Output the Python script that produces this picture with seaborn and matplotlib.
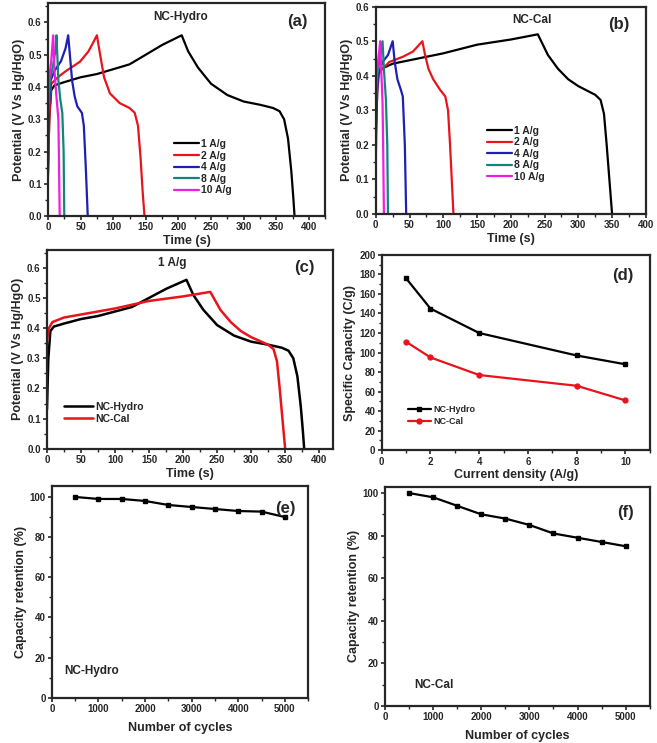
import numpy as np
import pandas as pd
import matplotlib
matplotlib.use('Agg')
import matplotlib.pyplot as plt
from matplotlib.ticker import MultipleLocator
import seaborn as sns

## ---- data ----
## (a) NC-Hydro GCD curves, time (s) / potential (V)
hyd_1_t = [0, 2, 5, 10, 25, 50, 75, 100, 125, 150, 175, 195, 205, 215, 230, 250, 275, 300, 325, 345, 355, 362, 368, 373, 376, 378]
hyd_1_v = [0.13, 0.30, 0.39, 0.405, 0.415, 0.43, 0.44, 0.455, 0.47, 0.50, 0.53, 0.55, 0.56, 0.51, 0.46, 0.41, 0.375, 0.355, 0.345, 0.335, 0.325, 0.30, 0.24, 0.14, 0.06, 0.0]
hyd_2_t = [0, 2, 5, 15, 28, 49, 62, 70, 75, 80, 86, 95, 110, 125, 133, 138, 142, 145, 148]
hyd_2_v = [0.12, 0.30, 0.41, 0.43, 0.45, 0.478, 0.51, 0.54, 0.56, 0.50, 0.43, 0.38, 0.35, 0.335, 0.32, 0.28, 0.18, 0.08, 0.0]
hyd_4_t = [0, 2, 4, 10, 20, 27, 31, 34, 37, 41, 45, 52, 55, 58, 61]
hyd_4_v = [0.22, 0.35, 0.42, 0.45, 0.48, 0.52, 0.56, 0.49, 0.42, 0.37, 0.34, 0.32, 0.28, 0.15, 0.0]
hyd_8_t = [0, 3, 8, 12, 13, 16, 19, 22, 24, 25]
hyd_8_v = [0.30, 0.42, 0.47, 0.52, 0.56, 0.42, 0.36, 0.32, 0.20, 0.0]
hyd_10_t = [0, 2, 5, 8, 10, 13, 16, 18]
hyd_10_v = [0.36, 0.43, 0.48, 0.56, 0.45, 0.37, 0.30, 0.0]

## (b) NC-Cal GCD curves
cal_1_t = [0, 3, 8, 25, 50, 100, 150, 200, 240, 245, 255, 270, 285, 300, 315, 325, 333, 338, 342, 346, 350]
cal_1_v = [0.36, 0.40, 0.42, 0.435, 0.445, 0.465, 0.49, 0.505, 0.52, 0.50, 0.46, 0.42, 0.39, 0.37, 0.355, 0.345, 0.33, 0.29, 0.20, 0.10, 0.0]
cal_2_t = [0, 2, 5, 20, 40, 55, 69, 73, 78, 85, 95, 103, 107, 110, 113, 115]
cal_2_v = [0.16, 0.35, 0.41, 0.44, 0.455, 0.47, 0.50, 0.46, 0.42, 0.39, 0.36, 0.34, 0.30, 0.20, 0.08, 0.0]
cal_4_t = [0, 3, 10, 18, 25, 28, 32, 37, 40, 43, 45]
cal_4_v = [0.23, 0.40, 0.44, 0.46, 0.50, 0.44, 0.39, 0.36, 0.34, 0.20, 0.0]
cal_8_t = [0, 2, 6, 10, 12, 15, 17, 18]
cal_8_v = [0.30, 0.40, 0.45, 0.50, 0.42, 0.33, 0.20, 0.0]
cal_10_t = [0, 2, 5, 6.5, 8, 10, 11, 12]
cal_10_v = [0.36, 0.42, 0.47, 0.50, 0.42, 0.32, 0.18, 0.0]

rates = ['1 A/g', '2 A/g', '4 A/g', '8 A/g', '10 A/g']
rate_colors = ['black', '#e8141b', '#1f1fb4', '#12857a', '#f01ee0']

## (d) specific capacity vs current density
density = [1, 2, 4, 8, 10]
cap_hydro = [176, 145, 120, 97, 88]
cap_cal = [111, 95, 77, 66, 51]

## (e), (f) cycling stability
cycles = [500, 1000, 1500, 2000, 2500, 3000, 3500, 4000, 4500, 5000]
ret_hydro = [100, 99, 99, 98, 96, 95, 94, 93, 92.7, 90]
ret_cal = [100, 98, 94, 90, 88, 85, 81, 79, 77, 75]

sns.set_style('ticks')
plt.rcParams['font.family'] = ['Liberation Sans', 'DejaVu Sans']
plt.rcParams['font.weight'] = 'bold'
plt.rcParams['axes.labelweight'] = 'bold'
plt.rcParams['axes.linewidth'] = 1.6
plt.rcParams['xtick.major.width'] = 1.2
plt.rcParams['ytick.major.width'] = 1.2
plt.rcParams['xtick.minor.width'] = 1.0
plt.rcParams['ytick.minor.width'] = 1.0
plt.rcParams['xtick.major.size'] = 3
plt.rcParams['ytick.major.size'] = 3
plt.rcParams['xtick.minor.size'] = 2
plt.rcParams['ytick.minor.size'] = 2
plt.rcParams['xtick.labelsize'] = 7
plt.rcParams['ytick.labelsize'] = 7
plt.rcParams['xtick.major.pad'] = 1.5
plt.rcParams['ytick.major.pad'] = 1.5

fig = plt.figure(figsize=(6.57, 7.43), dpi=100)
ax_a = fig.add_axes([0.073, 0.709, 0.422, 0.287])
ax_b = fig.add_axes([0.572, 0.712, 0.411, 0.279])
ax_c = fig.add_axes([0.0715, 0.396, 0.435, 0.268])
ax_d = fig.add_axes([0.581, 0.394, 0.408, 0.263])
ax_e = fig.add_axes([0.079, 0.061, 0.390, 0.285])
ax_f = fig.add_axes([0.586, 0.050, 0.403, 0.295])

lbl = dict(fontsize=9, fontweight='bold', labelpad=2)
leg_kw = dict(frameon=False, prop={'weight': 'bold', 'size': 7.5},
              handletextpad=0.2, labelspacing=0.15, borderpad=0)


def bold_ticks(ax):
    for t in ax.get_xticklabels() + ax.get_yticklabels():
        t.set_fontweight('bold')


def gcd_panel(ax, curves, title, title_x, tag, xmax, ymax, legend_pos):
    for (t, v), name, col in zip(curves, rates, rate_colors):
        sns.lineplot(x=t, y=v, sort=False, estimator=None, color=col, lw=1.6,
                     label=name, ax=ax)
    ax.set_xlim(0, xmax)
    ax.set_ylim(0, ymax)
    ax.xaxis.set_major_locator(MultipleLocator(50))
    ax.xaxis.set_minor_locator(MultipleLocator(25))
    ax.yaxis.set_major_locator(MultipleLocator(0.1))
    ax.yaxis.set_minor_locator(MultipleLocator(0.05))
    ax.set_xlabel('Time (s)', **lbl)
    ax.set_ylabel('Potential (V Vs Hg/HgO)', **lbl)
    ax.text(title_x, 0.92, title, transform=ax.transAxes, ha='center', fontsize=8.5, fontweight='bold')
    ax.text(0.9, 0.89, tag, transform=ax.transAxes, ha='center', fontsize=12, fontweight='bold')
    ax.legend(loc='center', bbox_to_anchor=legend_pos, handlelength=2.4, **leg_kw)
    bold_ticks(ax)


hydro_curves = [(hyd_1_t, hyd_1_v), (hyd_2_t, hyd_2_v), (hyd_4_t, hyd_4_v),
                (hyd_8_t, hyd_8_v), (hyd_10_t, hyd_10_v)]
cal_curves = [(cal_1_t, cal_1_v), (cal_2_t, cal_2_v), (cal_4_t, cal_4_v),
              (cal_8_t, cal_8_v), (cal_10_t, cal_10_v)]
gcd_panel(ax_a, hydro_curves, 'NC-Hydro', 0.48, '(a)', 425, 0.66, (0.56, 0.23))
gcd_panel(ax_b, cal_curves, 'NC-Cal', 0.58, '(b)', 400, 0.6, (0.52, 0.29))

## (c) comparison at 1 A/g
sns.lineplot(x=hyd_1_t, y=hyd_1_v, sort=False, estimator=None, color='black', lw=1.8,
             label='NC-Hydro', ax=ax_c)
sns.lineplot(x=cal_1_t, y=cal_1_v, sort=False, estimator=None, color='#e8141b', lw=1.8,
             label='NC-Cal', ax=ax_c)
ax_c.set_xlim(0, 420)
ax_c.set_ylim(0, 0.66)
ax_c.xaxis.set_major_locator(MultipleLocator(50))
ax_c.xaxis.set_minor_locator(MultipleLocator(25))
ax_c.yaxis.set_major_locator(MultipleLocator(0.1))
ax_c.yaxis.set_minor_locator(MultipleLocator(0.05))
ax_c.set_xlabel('Time (s)', **lbl)
ax_c.set_ylabel('Potential (V Vs Hg/HgO)', **lbl)
ax_c.text(0.44, 0.92, '1 A/g', transform=ax_c.transAxes, ha='center', fontsize=8.5, fontweight='bold')
ax_c.text(0.9, 0.89, '(c)', transform=ax_c.transAxes, ha='center', fontsize=12, fontweight='bold')
ax_c.legend(loc='lower left', bbox_to_anchor=(0.04, 0.1), handlelength=2.8, **leg_kw)
bold_ticks(ax_c)

## (d) rate capability
ax_d.plot(density, cap_hydro, color='black', marker='s', ms=3.5, lw=1.6, label='NC-Hydro')
ax_d.plot(density, cap_cal, color='#e8141b', marker='o', ms=3.5, lw=1.6, label='NC-Cal')
ax_d.set_xlim(0, 11)
ax_d.set_ylim(0, 200)
ax_d.xaxis.set_major_locator(MultipleLocator(2))
ax_d.xaxis.set_minor_locator(MultipleLocator(1))
ax_d.yaxis.set_major_locator(MultipleLocator(20))
ax_d.yaxis.set_minor_locator(MultipleLocator(10))
ax_d.set_xlabel('Current density (A/g)', **lbl)
ax_d.set_ylabel('Specific Capacity (C/g)', **lbl)
ax_d.text(0.9, 0.87, '(d)', transform=ax_d.transAxes, ha='center', fontsize=12, fontweight='bold')
ax_d.legend(loc='lower left', bbox_to_anchor=(0.08, 0.1), handlelength=2.6,
            frameon=False, prop={'weight': 'bold', 'size': 6.5},
            handletextpad=0.2, labelspacing=0.35, borderpad=0)
bold_ticks(ax_d)


def cycle_panel(ax, ret, name, tag, ytop, name_pos, tag_pos):
    ax.plot(cycles, ret, color='black', marker='s', ms=3.5, lw=1.6)
    ax.set_xlim(0, 5500)
    ax.set_ylim(0, ytop)
    ax.xaxis.set_major_locator(MultipleLocator(1000))
    ax.xaxis.set_minor_locator(MultipleLocator(500))
    ax.yaxis.set_major_locator(MultipleLocator(20))
    ax.yaxis.set_minor_locator(MultipleLocator(10))
    ax.set_xlabel('Number of cycles', fontsize=9, fontweight='bold', labelpad=6)
    ax.set_ylabel('Capacity retention (%)', **lbl)
    ax.text(name_pos[0], name_pos[1], name, transform=ax.transAxes, fontsize=8.5, fontweight='bold')
    ax.text(tag_pos[0], tag_pos[1], tag, transform=ax.transAxes, ha='center', fontsize=12, fontweight='bold')
    bold_ticks(ax)


cycle_panel(ax_e, ret_hydro, 'NC-Hydro', '(e)', 105.5, (0.05, 0.11), (0.91, 0.87))
cycle_panel(ax_f, ret_cal, 'NC-Cal', '(f)', 103, (0.11, 0.08), (0.91, 0.86))

fig.savefig('out.png', dpi=100)
